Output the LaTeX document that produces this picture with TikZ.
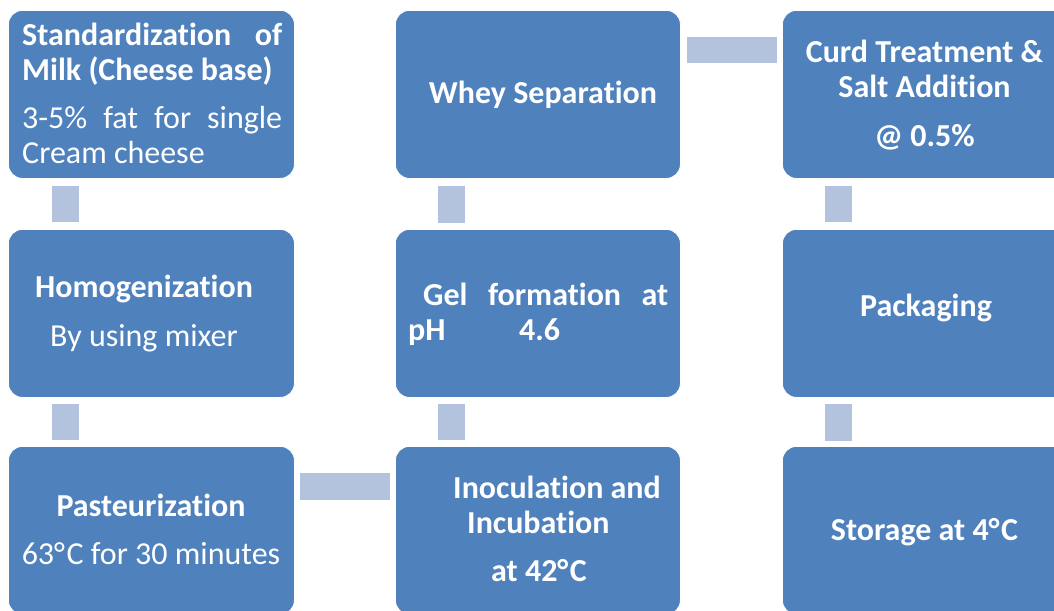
\documentclass[tikz,border=0pt]{standalone}
\usepackage{fontspec}
\setmainfont{Carlito}[Ligatures={NoCommon,NoRare,NoContextual}]
\usetikzlibrary{calc}
\definecolor{boxblue}{HTML}{4F81BD}
\definecolor{connblue}{HTML}{B3C2DD}
\newcommand{\degC}{°\kern1.5pt C}
\begin{document}
\begin{tikzpicture}[x=1pt,y=-1pt,
  box/.style={draw=white, line width=0.8pt, fill=boxblue, rounded corners=14pt,
    minimum width=286pt, minimum height=168pt, inner sep=0pt, anchor=north west},
  txt/.style={text=white, inner sep=0pt, font=\fontsize{32}{35}\selectfont},
  conn/.style={fill=connblue}]
\useasboundingbox (0,0) rectangle (1054,610);
\fill[white] (0,0) rectangle (1054,610);
\begin{scope}
\clip (0,0) rectangle (1054,610);
% boxes
\node[box] (std) at (8,10) {};
\node[box] (hom) at (8,229) {};
\node[box] (pas) at (8,446) {};
\node[box,minimum width=285pt] (whey) at (395,10) {};
\node[box,minimum width=285pt] (gel) at (395,229) {};
\node[box,minimum width=285pt] (ino) at (395,446) {};
\node[box] (curd) at (782,10) {};
\node[box] (pack) at (782,229) {};
\node[box] (stor) at (782,446) {};
% connectors
\fill[conn] ($(std.south west)+(44,7)$) rectangle ($(hom.north west)+(71,-7)$);
\fill[conn] ($(hom.south west)+(44,6)$) rectangle ($(pas.north west)+(71,-6)$);
\fill[conn] ($(pas.north east)+(5,27)$) rectangle ($(ino.north west)+(-5,54)$);
\fill[conn] ($(ino.north west)+(43,-6)$) rectangle ($(gel.south west)+(70,6)$);
\fill[conn] ($(gel.north west)+(43,-6)$) rectangle ($(whey.south west)+(70,7)$);
\fill[conn] ($(whey.north east)+(6,27)$) rectangle ($(curd.north west)+(-5,53)$);
\fill[conn] ($(curd.south west)+(43,7)$) rectangle ($(pack.north west)+(70,-7)$);
\fill[conn] ($(pack.south west)+(43,6)$) rectangle ($(stor.north west)+(70,-5)$);
% texts (anchor base = baseline of the last line)
\node[txt, anchor=base west, align=left] (t1) at (22,163)
  {\bfseries\makebox[260pt][s]{Standardization of}\\
   \bfseries Milk (Cheese base)\\[13pt]
   \makebox[260pt][s]{3-5\% fat for single}\\
   Cream cheese};
\node[txt, anchor=base, align=center] (t2) at (144,346)
  {\bfseries Homogenization\\[14pt] By using mixer};
\node[txt, anchor=base, align=center] (t3) at (151,564)
  {\bfseries Pasteurization\\[13pt] 63\degC{} for 30 minutes};
\node[txt, anchor=base, align=center] (t4) at (543,103)
  {\bfseries Whey Separation};
\node[txt, anchor=base west, align=left] (t5) at (408,340)
  {\bfseries\hbox to 260pt{\hspace*{15pt}Gel\hfill formation\hfill at}\\
   \bfseries\makebox[111pt][l]{pH}4.6};
\node[txt, anchor=base west, align=left] (t6) at (453,581)
  {\bfseries Inoculation and\\
   \bfseries\hspace*{14pt}Incubation\\[13pt]
   \bfseries\hspace*{38pt}at 42\degC};
\node[txt, anchor=base, align=center] (t7) at (924.5,146)
  {\bfseries Curd Treatment \&\\ \bfseries Salt Addition\\[14pt] \bfseries @ 0.5\%};
\node[txt, anchor=base, align=center] (t8) at (926,316)
  {\bfseries Packaging};
\node[txt, anchor=base, align=center] (t9) at (924.5,540)
  {\bfseries Storage at 4\degC};
\end{scope}
\end{tikzpicture}
\end{document}
